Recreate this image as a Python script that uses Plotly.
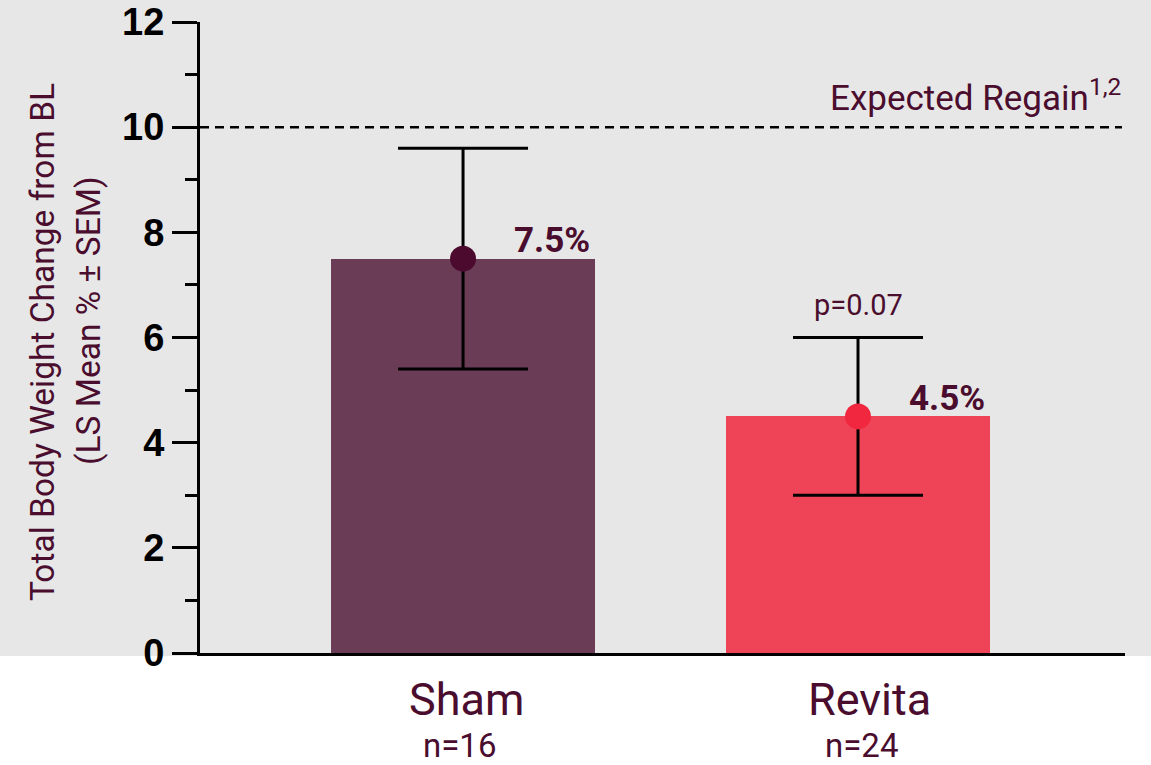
import plotly.graph_objects as go

# ---- data ----
categories = ["Sham", "Revita"]
n_labels = ["n=16", "n=24"]
means = [7.5, 4.5]
upper = [9.6, 6.0]
lower = [5.4, 3.0]
value_labels = ["7.5%", "4.5%"]
expected_regain = 10
p_text = "p=0.07"
p_y = 6.62
y_ticks = [0, 2, 4, 6, 8, 10, 12]

bar_colors = ["#6a3c56", "#ef4457"]
marker_colors = ["#4b0a2e", "#f0273f"]
plum = "#4a0d2e"
gray = "#e7e7e7"

W, H = 1151, 765
L, R, T, B = 200, 26, 22, 112
pw = W - L - R
ph = H - T - B

fig = go.Figure()
fig.add_trace(go.Bar(
    x=categories, y=means, width=0.668,
    marker=dict(color=bar_colors, line=dict(width=0)),
    showlegend=False, hoverinfo="skip",
))
fig.add_trace(go.Scatter(
    x=categories, y=means, mode="markers",
    marker=dict(color=marker_colors, size=26, line=dict(width=0)),
    error_y=dict(type="data", symmetric=False,
                 array=[u - m for u, m in zip(upper, means)],
                 arrayminus=[m - l for m, l in zip(means, lower)],
                 color="black", thickness=3, width=65),
    showlegend=False, hoverinfo="skip",
))

# background gray (above x-axis)
fig.add_shape(type="rect", xref="paper", yref="paper",
              x0=-0.5, x1=1.5, y0=-3 / ph, y1=1.5,
              fillcolor=gray, line=dict(width=0), layer="below")

# expected regain dashed line
fig.add_shape(type="line", xref="paper", yref="y",
              x0=0, x1=(1122 - L) / pw, y0=expected_regain, y1=expected_regain,
              line=dict(color="black", width=2.5, dash="9px,6px"))

annotations = []
annotations.append(dict(xref="paper", yref="y", x=(1123 - L) / pw, y=expected_regain,
                        text="Expected Regain<sup>1,2</sup>", showarrow=False,
                        xanchor="right", yanchor="bottom", yshift=6,
                        font=dict(family="Roboto", size=35, color=plum)))
for c, m, lab, ys in zip(categories, means, value_labels, [-4, -5]):
    annotations.append(dict(xref="x", yref="y", x=c, y=m, text="<b>" + lab + "</b>",
                            showarrow=False, xanchor="center", yanchor="bottom",
                            xshift=89, yshift=ys,
                            font=dict(family="Roboto", size=35, color=plum)))
annotations.append(dict(xref="x", yref="y", x=categories[1], y=p_y, text=p_text,
                        showarrow=False, xanchor="center", yanchor="middle",
                        font=dict(family="Roboto", size=29, color=plum)))
cat_shift = [3, 11]
n_shift = [-4, 3]
for c, name, n, cs, ns in zip(categories, categories, n_labels, cat_shift, n_shift):
    annotations.append(dict(xref="x", yref="paper", x=c, y=(653 - 699) / ph, text=name,
                            showarrow=False, xanchor="center", yanchor="middle", xshift=cs,
                            font=dict(family="Roboto", size=45, color=plum)))
    annotations.append(dict(xref="x", yref="paper", x=c, y=(653 - 745) / ph, text=n,
                            showarrow=False, xanchor="center", yanchor="middle", xshift=ns,
                            font=dict(family="Roboto", size=33, color=plum)))
# y-axis title lines
annotations.append(dict(xref="paper", yref="paper", x=(42 - L) / pw, y=(653 - 342) / ph,
                        text="Total Body Weight Change from BL", textangle=-90,
                        showarrow=False, xanchor="center", yanchor="middle",
                        font=dict(family="Roboto", size=33.5, color=plum)))
annotations.append(dict(xref="paper", yref="paper", x=(88 - L) / pw, y=(653 - 321) / ph,
                        text="(LS Mean % ± SEM)", textangle=-90,
                        showarrow=False, xanchor="center", yanchor="middle",
                        font=dict(family="Roboto", size=33.5, color=plum)))

fig.update_layout(
    width=W, height=H, autosize=False,
    margin=dict(l=L, r=R, t=T, b=B, autoexpand=False),
    paper_bgcolor="white", plot_bgcolor=gray,
    annotations=annotations,
    bargap=0,
    xaxis=dict(range=[-0.666, 1.676], showline=True, linecolor="black", linewidth=3,
               showgrid=False, zeroline=False, ticks="", showticklabels=False,
               automargin=False),
    yaxis=dict(range=[0, 12], showline=True, linecolor="black", linewidth=3,
               showgrid=False, zeroline=False, automargin=False,
               tickvals=y_ticks, ticks="outside", ticklen=25, tickwidth=3, tickcolor="black",
               tickfont=dict(family="Liberation Sans", size=38, color="black", weight="bold"),
               minor=dict(dtick=1, ticks="outside", ticklen=12, tickwidth=3, tickcolor="black")),
)

fig.write_html("out.html", config={"displayModeBar": False},
               post_script="document.body.style.margin='0';document.body.style.overflow='hidden';")
